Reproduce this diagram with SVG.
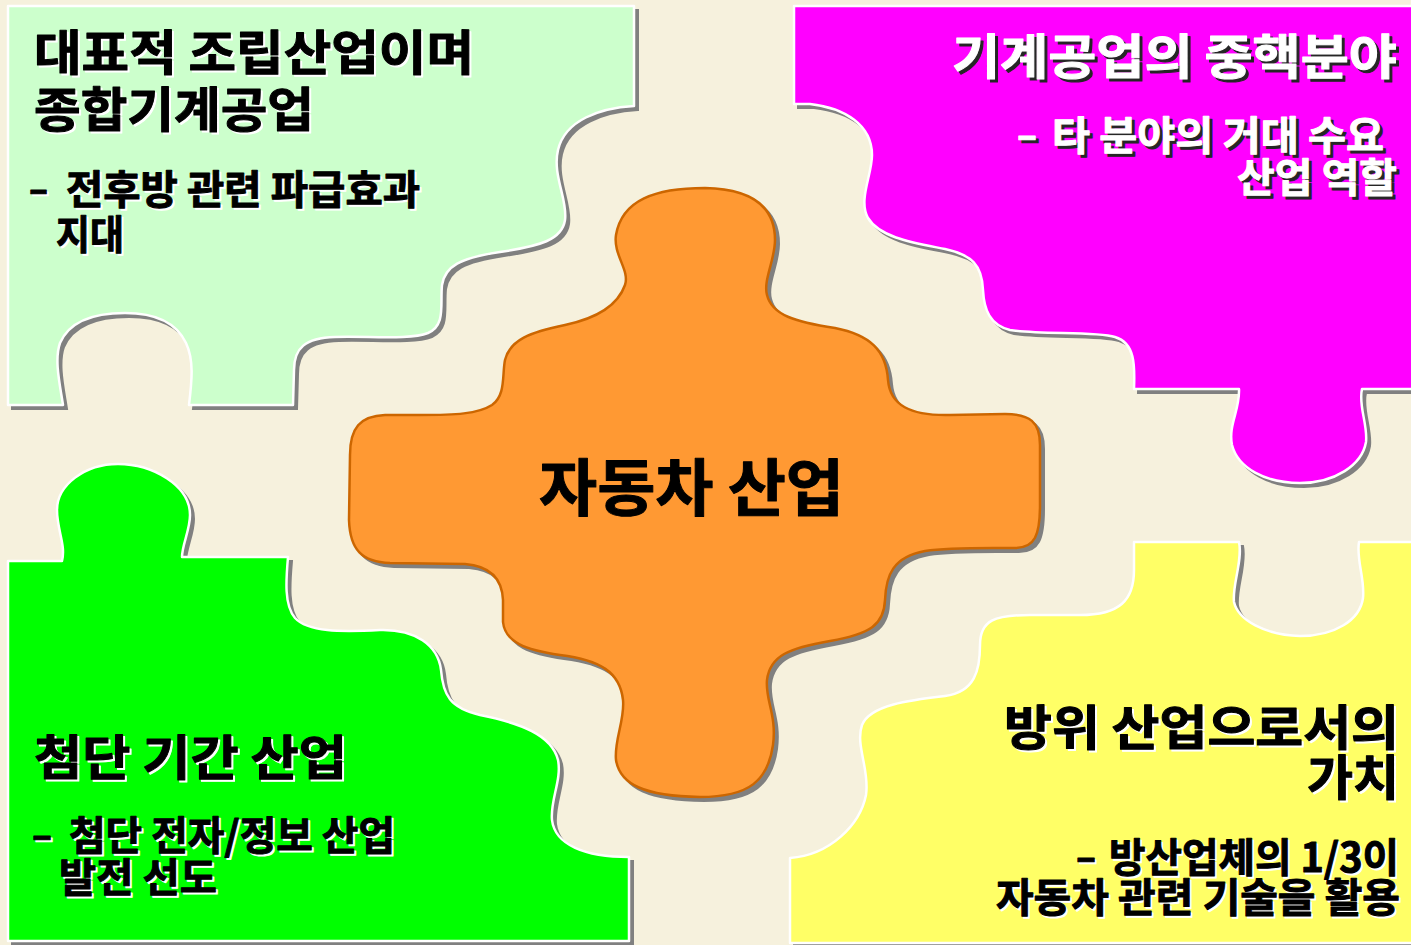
<svg xmlns="http://www.w3.org/2000/svg" xmlns:xlink="http://www.w3.org/1999/xlink" width="1411" height="945" viewBox="0 0 1411 945">
<style>
.bg{fill:#F6F1DD}
.sh{fill:#808080;stroke:#808080;stroke-width:2}
.pc{stroke:#FFFFFF;stroke-width:2.5;stroke-linejoin:round}
.pco{fill:#FF9933;stroke:#CC6600;stroke-width:2.5;stroke-linejoin:round}
text{font-family:"Noto Sans CJK KR","Noto Sans",sans-serif;font-weight:700;stroke-width:1;stroke-linejoin:round}
.h{font-size:48px}
.s{font-size:40px}
.c{font-size:62px}
.k{fill:#000000;stroke:#000000}
.ws{fill:#FFFFFF;stroke:#FFFFFF}
.w{fill:#FFFFFF;stroke:#FFFFFF}
.ds{fill:#262626;stroke:#262626}
</style>
<defs>
<path id="p1" d="M 8,6 H 634 V 106 C 600,108 565,120 558,150 C 552,175 568,200 565,220 C 562,240 540,246 500,252 C 460,258 445,266 442,285 C 440,305 446,325 428,333 C 410,340 370,336 335,337 C 305,338 294,348 294,370 L 293,405 H 189 C 192,380 194,360 186,343 C 176,322 155,313 125,313 C 95,313 70,320 60,343 C 54,360 60,385 63,405 H 8 Z"/>
<path id="p2" d="M 794,6 H 1425 V 389 H 1362 C 1358,405 1368,425 1366,442 C 1362,465 1335,483 1300,483 C 1265,483 1238,468 1232,445 C 1228,425 1240,410 1239,389 H 1134 C 1135,365 1135,343 1115,337 C 1095,331 1040,335 1010,330 C 990,325 984,310 983,290 C 982,265 972,255 945,249 C 915,243 880,238 868,218 C 858,200 872,175 872,155 C 872,125 845,108 810,104 L 794,104 Z"/>
<path id="p3" d="M 8,941 V 561 H 62 C 66,545 57,530 57,510 C 57,485 85,464 118,464 C 152,464 190,485 190,515 C 190,530 182,545 182,557 H 288 C 286,580 284,605 295,618 C 308,632 340,632 380,630 C 415,629 438,645 441,670 C 443,695 450,708 480,715 C 520,723 552,735 558,760 C 562,780 550,800 552,820 C 555,845 585,857 629,857 V 941 Z"/>
<path id="p4" d="M 790,943 V 858 C 830,855 860,825 866,795 C 870,770 855,745 862,725 C 870,705 910,700 945,696 C 975,692 980,670 980,645 C 980,620 995,615 1030,615 L 1080,615 C 1120,615 1134,600 1134,570 L 1134,542 H 1239 C 1243,560 1232,585 1234,602 C 1238,620 1265,635 1300,636 C 1335,636 1360,620 1363,598 C 1365,578 1356,560 1359,542 H 1425 V 943 Z"/>
<path id="p5" d="M 625,285 C 618,305 598,318 565,325 C 530,332 510,340 505,360 C 502,375 506,395 492,405 C 478,414 455,415 420,415 L 385,415 C 360,416 350,428 350,455 L 349,520 C 350,550 362,562 390,563 L 465,564 C 490,566 502,578 503,600 L 503,622 C 505,642 525,650 560,655 C 600,660 620,672 623,700 C 625,720 614,740 616,760 C 620,785 645,796 700,797 C 750,797 768,780 773,745 C 777,715 765,700 767,680 C 770,655 790,648 830,641 C 870,634 884,625 885,600 C 886,575 893,557 925,551 C 950,547 990,548 1015,548 C 1035,548 1040,535 1040,505 L 1040,445 C 1040,422 1030,414 1005,414 L 950,415 C 910,416 890,405 888,380 C 886,350 870,335 835,328 C 795,322 772,315 767,295 C 763,280 775,260 775,240 C 775,205 750,189 705,188 C 655,188 622,200 616,235 C 613,255 630,270 625,285 Z"/>
</defs>
<rect class="bg" x="0" y="0" width="1411" height="945"/>
<g id="connectors"/>
<g id="node-top-left">
<use xlink:href="#p1" class="sh" transform="translate(4,4)"/>
<use xlink:href="#p1" class="pc" fill="#CCFFCC"/>
<text class="h ws" x="36" y="72" textLength="440" lengthAdjust="spacingAndGlyphs">대표적 조립산업이며</text>
<text class="h k" x="34" y="70" textLength="440" lengthAdjust="spacingAndGlyphs">대표적 조립산업이며</text>
<text class="h ws" x="36" y="129" textLength="280" lengthAdjust="spacingAndGlyphs">종합기계공업</text>
<text class="h k" x="34" y="127" textLength="280" lengthAdjust="spacingAndGlyphs">종합기계공업</text>
<text class="s ws" x="31" y="205" textLength="19" lengthAdjust="spacingAndGlyphs">–</text>
<text class="s k" x="29" y="203" textLength="19" lengthAdjust="spacingAndGlyphs">–</text>
<text class="s ws" x="68" y="206" textLength="354" lengthAdjust="spacingAndGlyphs">전후방 관련 파급효과</text>
<text class="s k" x="66" y="204" textLength="354" lengthAdjust="spacingAndGlyphs">전후방 관련 파급효과</text>
<text class="s ws" x="58" y="251" textLength="68" lengthAdjust="spacingAndGlyphs">지대</text>
<text class="s k" x="56" y="249" textLength="68" lengthAdjust="spacingAndGlyphs">지대</text>
</g>
<g id="node-top-right">
<use xlink:href="#p2" class="sh" transform="translate(4,4)"/>
<use xlink:href="#p2" class="pc" fill="#FF00FF"/>
<text class="h ds" x="955" y="77" textLength="445" lengthAdjust="spacingAndGlyphs">기계공업의 중핵분야</text>
<text class="h w" x="952" y="74" textLength="445" lengthAdjust="spacingAndGlyphs">기계공업의 중핵분야</text>
<text class="s ds" x="1020" y="152" textLength="20" lengthAdjust="spacingAndGlyphs">–</text>
<text class="s w" x="1017" y="149" textLength="20" lengthAdjust="spacingAndGlyphs">–</text>
<text class="s ds" x="1055" y="153" textLength="332" lengthAdjust="spacingAndGlyphs">타 분야의 거대 수요</text>
<text class="s w" x="1052" y="150" textLength="332" lengthAdjust="spacingAndGlyphs">타 분야의 거대 수요</text>
<text class="s ds" x="1240" y="195" textLength="160" lengthAdjust="spacingAndGlyphs">산업 역할</text>
<text class="s w" x="1237" y="192" textLength="160" lengthAdjust="spacingAndGlyphs">산업 역할</text>
</g>
<g id="node-bottom-left">
<use xlink:href="#p3" class="sh" transform="translate(4,4)"/>
<use xlink:href="#p3" class="pc" fill="#00FF00"/>
<text class="h ws" x="36" y="777" textLength="313" lengthAdjust="spacingAndGlyphs">첨단 기간 산업</text>
<text class="h k" x="34" y="775" textLength="313" lengthAdjust="spacingAndGlyphs">첨단 기간 산업</text>
<text class="s ws" x="34" y="851" textLength="20" lengthAdjust="spacingAndGlyphs">–</text>
<text class="s k" x="32" y="849" textLength="20" lengthAdjust="spacingAndGlyphs">–</text>
<text class="s ws" x="71" y="852" textLength="326" lengthAdjust="spacingAndGlyphs">첨단 전자/정보 산업</text>
<text class="s k" x="69" y="850" textLength="326" lengthAdjust="spacingAndGlyphs">첨단 전자/정보 산업</text>
<text class="s ws" x="61" y="894" textLength="158" lengthAdjust="spacingAndGlyphs">발전 선도</text>
<text class="s k" x="59" y="892" textLength="158" lengthAdjust="spacingAndGlyphs">발전 선도</text>
</g>
<g id="node-bottom-right">
<use xlink:href="#p4" class="sh" transform="translate(4,4)"/>
<use xlink:href="#p4" class="pc" fill="#FFFF66"/>
<text class="h ws" x="1006" y="747" textLength="395" lengthAdjust="spacingAndGlyphs">방위 산업으로서의</text>
<text class="h k" x="1004" y="745" textLength="395" lengthAdjust="spacingAndGlyphs">방위 산업으로서의</text>
<text class="h ws" x="1309" y="797" textLength="92" lengthAdjust="spacingAndGlyphs">가치</text>
<text class="h k" x="1307" y="795" textLength="92" lengthAdjust="spacingAndGlyphs">가치</text>
<text class="s ws" x="1078" y="873" textLength="20" lengthAdjust="spacingAndGlyphs">–</text>
<text class="s k" x="1076" y="871" textLength="20" lengthAdjust="spacingAndGlyphs">–</text>
<text class="s ws" x="1111" y="874" textLength="290" lengthAdjust="spacingAndGlyphs">방산업체의 1/3이</text>
<text class="s k" x="1109" y="872" textLength="290" lengthAdjust="spacingAndGlyphs">방산업체의 1/3이</text>
<text class="s ws" x="998" y="914" textLength="404" lengthAdjust="spacingAndGlyphs">자동차 관련 기술을 활용</text>
<text class="s k" x="996" y="912" textLength="404" lengthAdjust="spacingAndGlyphs">자동차 관련 기술을 활용</text>
</g>
<g id="node-center">
<use xlink:href="#p5" class="sh" transform="translate(4,4)"/>
<use xlink:href="#p5" class="pco"/>
<text class="c k" x="539" y="511" textLength="305" lengthAdjust="spacingAndGlyphs">자동차 산업</text>
</g>
</svg>
